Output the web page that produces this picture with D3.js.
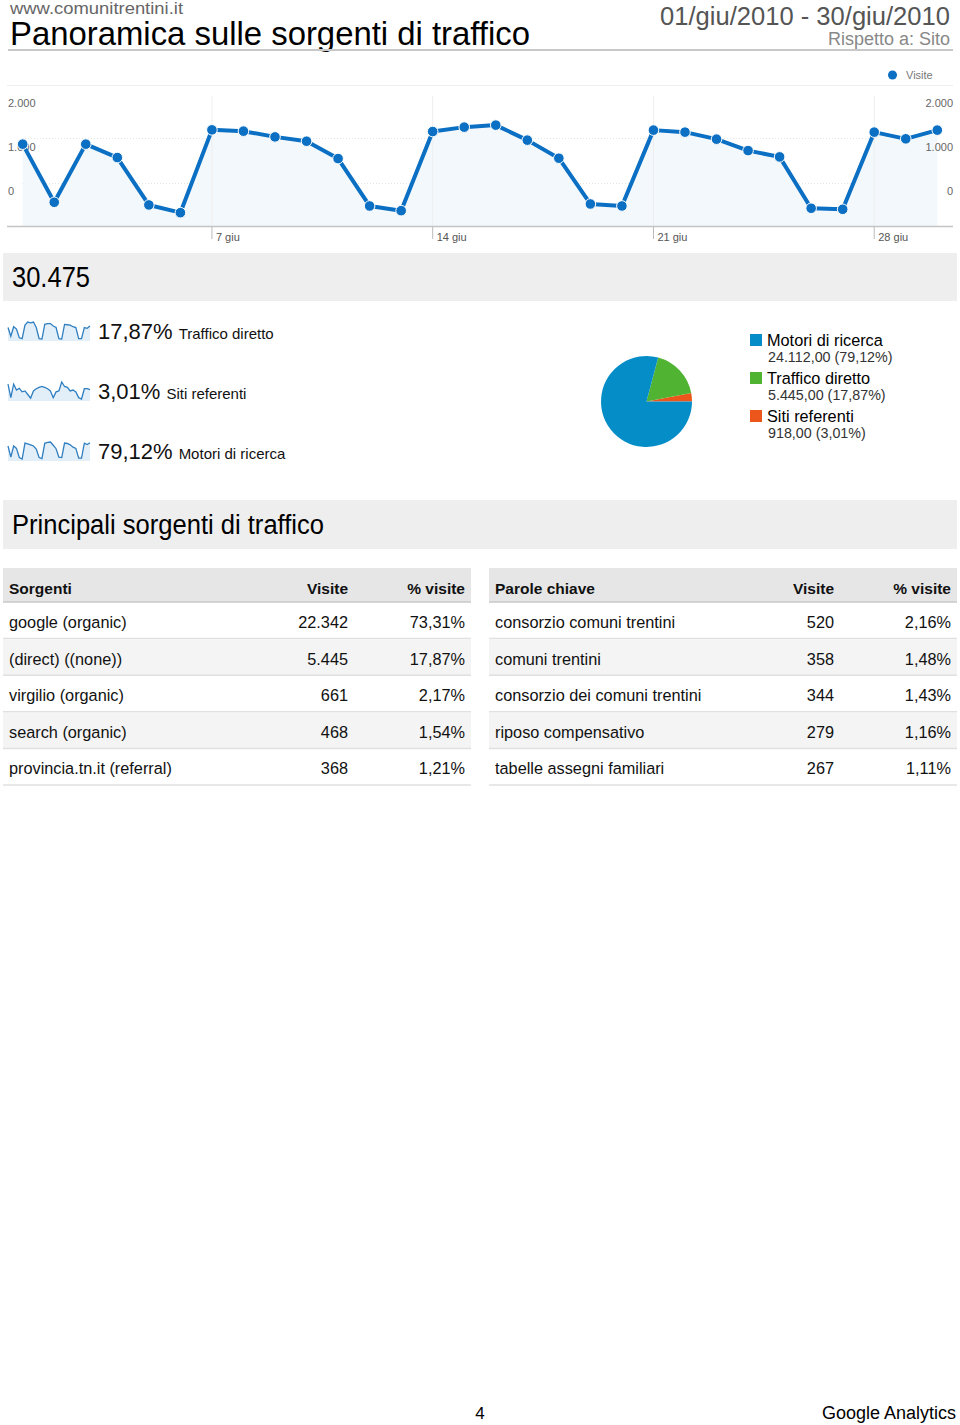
<!DOCTYPE html>
<html><head><meta charset="utf-8">
<script src="https://cdn.jsdelivr.net/npm/d3@7"></script>
<style>
html,body{margin:0;padding:0;background:#fff;}
svg{display:block;font-family:"Liberation Sans",Arial,Helvetica,sans-serif;}
</style></head>
<body>
<svg id="c" width="960" height="1425"></svg>
<script>
// ---------- DATA ----------
const siteName = "www.comunitrentini.it";
const reportTitle = "Panoramica sulle sorgenti di traffico";
const dateRange = "01/giu/2010 - 30/giu/2010";
const compareText = "Rispetto a: Sito";

const days = d3.range(1, 31);
const visits = [1259, 365, 1259, 1053, 324, 205, 1479, 1459, 1371, 1305, 1037, 308, 236, 1453, 1521,
                1552, 1321, 1043, 339, 308, 1475, 1444, 1336, 1160, 1063, 273, 257, 1444, 1341, 1475];
const xTickDays = [7, 14, 21, 28];
const xTickLabels = ["7 giu", "14 giu", "21 giu", "28 giu"];
const yTickLabels = ["2.000", "1.000", "0"];
const seriesName = "Visite";

const totalVisits = "30.475";

const sparkNames = ["Traffico diretto", "Siti referenti", "Motori di ricerca"];
const sparkPercents = ["17,87%", "3,01%", "79,12%"];
const sparkDirect = [200, 90, 210, 180, 70, 60, 230, 270, 260, 270, 200, 60, 55, 240, 250,
                     250, 220, 200, 60, 55, 240, 235, 230, 210, 200, 60, 60, 200, 190, 220];
const sparkReferral = [45, 15, 45, 32, 36, 28, 30, 22, 14, 30, 35, 38, 40, 38, 35,
                       30, 15, 28, 30, 50, 40, 38, 30, 32, 28, 15, 12, 35, 35, 33];
const sparkSearch = [1000, 250, 1000, 840, 230, 130, 1200, 1150, 1080, 1000, 800, 230, 160, 1180, 1250,
                     1270, 1050, 820, 250, 230, 1200, 1170, 1080, 920, 840, 190, 190, 1190, 1100, 1220];

const pieNames = ["Motori di ricerca", "Traffico diretto", "Siti referenti"];
const pieValues = [24112, 5445, 918];
const pieLabels = ["24.112,00 (79,12%)", "5.445,00 (17,87%)", "918,00 (3,01%)"];
const pieColors = ["#058dc7", "#50b432", "#ed561b"];

const sectionTitle = "Principali sorgenti di traffico";

const sourceHeaders = ["Sorgenti", "Visite", "% visite"];
const sourceNames = ["google (organic)", "(direct) ((none))", "virgilio (organic)", "search (organic)", "provincia.tn.it (referral)"];
const sourceVisits = ["22.342", "5.445", "661", "468", "368"];
const sourcePct = ["73,31%", "17,87%", "2,17%", "1,54%", "1,21%"];

const kwHeaders = ["Parole chiave", "Visite", "% visite"];
const kwNames = ["consorzio comuni trentini", "comuni trentini", "consorzio dei comuni trentini", "riposo compensativo", "tabelle assegni familiari"];
const kwVisits = ["520", "358", "344", "279", "267"];
const kwPct = ["2,16%", "1,48%", "1,43%", "1,16%", "1,11%"];

const pageNumber = "4";
const footerText = "Google Analytics";

// ---------- DRAW ----------
const svg = d3.select("#c");

// Header
svg.append("text").attr("x", 10).attr("y", 14).attr("font-size", 17).attr("fill", "#666").attr("textLength", 173).attr("lengthAdjust", "spacingAndGlyphs").text(siteName);
svg.append("text").attr("x", 10).attr("y", 45).attr("font-size", 33).attr("fill", "#000").attr("textLength", 520).attr("lengthAdjust", "spacingAndGlyphs").text(reportTitle);
svg.append("text").attr("x", 660).attr("y", 25).attr("font-size", 26).attr("fill", "#555").attr("textLength", 290).attr("lengthAdjust", "spacingAndGlyphs").text(dateRange);
svg.append("text").attr("x", 950).attr("y", 45).attr("font-size", 18).attr("fill", "#888").attr("text-anchor", "end").text(compareText);
svg.append("line").attr("x1", 8).attr("x2", 953).attr("y1", 50).attr("y2", 50).attr("stroke", "#c8c8c8").attr("stroke-width", 2);

// Line chart
const lineColor = "#0b6fc3";
const x = d3.scaleLinear().domain([1, 30]).range([22.7, 937.3]);
const y = d3.scaleLinear().domain([0, 2000]).range([226, 96]);
const yLab = d3.scalePoint().domain(yTickLabels).range([103, 191]);

// legend
svg.append("circle").attr("cx", 892.5).attr("cy", 75).attr("r", 4.5).attr("fill", lineColor);
svg.append("text").attr("x", 906).attr("y", 79).attr("font-size", 11).attr("fill", "#777").text(seriesName);

svg.append("line").attr("x1", 7).attr("x2", 953).attr("y1", 85.5).attr("y2", 85.5).attr("stroke", "#eee");

// dotted grid
[138.5, 183.5].forEach(gy => {
  svg.append("line").attr("x1", 22).attr("x2", 937).attr("y1", gy).attr("y2", gy)
    .attr("stroke", "#e4e4e4").attr("stroke-dasharray", "1,2");
});

// area
const area = d3.area().x((d, i) => x(days[i])).y0(y(0)).y1(d => y(d));
svg.append("path").datum(visits).attr("d", area).attr("fill", "#f2f8fc");

// vertical gridlines at ticks
xTickDays.forEach((d, i) => {
  svg.append("line").attr("x1", x(d)).attr("x2", x(d)).attr("y1", y(2000)).attr("y2", y(0)).attr("stroke", "#eeeeee");
  svg.append("line").attr("x1", x(d)).attr("x2", x(d)).attr("y1", y(0)).attr("y2", y(0) + 13).attr("stroke", "#bbb");
  svg.append("text").attr("x", x(d) + 4).attr("y", 241).attr("font-size", 11).attr("fill", "#555").text(xTickLabels[i]);
});

// y labels
yTickLabels.forEach(l => {
  svg.append("text").attr("x", 8).attr("y", yLab(l) + 4).attr("font-size", 11).attr("fill", "#666").text(l);
  svg.append("text").attr("x", 953).attr("y", yLab(l) + 4).attr("font-size", 11).attr("fill", "#666").attr("text-anchor", "end").text(l);
});

// axis
svg.append("line").attr("x1", 7).attr("x2", 953).attr("y1", 226.5).attr("y2", 226.5).attr("stroke", "#c4c4c4").attr("stroke-width", 1.5);

// line + points
const line = d3.line().x((d, i) => x(days[i])).y(d => y(d));
svg.append("path").datum(visits).attr("d", line).attr("fill", "none").attr("stroke", lineColor).attr("stroke-width", 4).attr("stroke-linejoin", "round");
svg.selectAll("circle.pt").data(visits).join("circle").attr("class", "pt")
  .attr("cx", (d, i) => x(days[i])).attr("cy", d => y(d)).attr("r", 5.3)
  .attr("fill", lineColor).attr("stroke", "#fff").attr("stroke-width", 1);

// Total box
svg.append("rect").attr("x", 3).attr("y", 253).attr("width", 954).attr("height", 48).attr("fill", "#eeeeee");
svg.append("text").attr("x", 12).attr("y", 287).attr("font-size", 29).attr("fill", "#000").attr("textLength", 78).attr("lengthAdjust", "spacingAndGlyphs").text(totalVisits);

// Sparklines
const sparkData = [sparkDirect, sparkReferral, sparkSearch];
const sparkTops = [321, 381, 441];
const sx = d3.scaleLinear().domain([1, 30]).range([8, 90]);
sparkData.forEach((arr, k) => {
  const top = sparkTops[k];
  const sy = d3.scaleLinear().domain([d3.min(arr), d3.max(arr)]).range([top + 18, top + 1]);
  const g = svg.append("g");
  g.append("path").datum(arr).attr("d", d3.area().x((d, i) => sx(days[i])).y0(top + 20).y1(d => sy(d))).attr("fill", "#e2eef8");
  g.append("path").datum(arr).attr("d", d3.line().x((d, i) => sx(days[i])).y(d => sy(d))).attr("fill", "none").attr("stroke", "#2f7fc1").attr("stroke-width", 1.3);
  const pt = svg.append("text").attr("x", 98).attr("y", top + 18).attr("font-size", 22).attr("fill", "#111").text(sparkPercents[k]);
  const w = pt.node().getComputedTextLength();
  svg.append("text").attr("x", 98 + w + 6).attr("y", top + 18).attr("font-size", 15).attr("fill", "#111").text(sparkNames[k]);
});

// Pie
const pieOrder = [2, 1, 0];
const pie = d3.pie().sort(null).value(i => pieValues[i]).startAngle(Math.PI / 2).endAngle(Math.PI / 2 - 2 * Math.PI);
const arc = d3.arc().innerRadius(0).outerRadius(45.5);
svg.append("g").attr("transform", "translate(646.5,401.5)")
  .selectAll("path").data(pie(pieOrder)).join("path")
  .attr("d", arc).attr("fill", d => pieColors[d.data]);

// Pie legend
const legTops = [334, 372, 410];
pieNames.forEach((n, i) => {
  svg.append("rect").attr("x", 750).attr("y", legTops[i]).attr("width", 12).attr("height", 12).attr("fill", pieColors[i]);
  svg.append("text").attr("x", 767).attr("y", legTops[i] + 12).attr("font-size", 16.3).attr("fill", "#000").text(n);
  svg.append("text").attr("x", 768).attr("y", legTops[i] + 28).attr("font-size", 14.3).attr("fill", "#333").text(pieLabels[i]);
});

// Section header
svg.append("rect").attr("x", 3).attr("y", 500).attr("width", 954).attr("height", 49).attr("fill", "#eeeeee");
svg.append("text").attr("x", 12).attr("y", 534).attr("font-size", 27).attr("fill", "#000").attr("textLength", 312).attr("lengthAdjust", "spacingAndGlyphs").text(sectionTitle);

// Tables
function drawTable(x0, x1, colVisR, colPctR, headers, names, vis, pct) {
  const g = svg.append("g");
  const rowY = d3.scaleBand().domain(d3.range(names.length)).range([602, 785]);
  g.append("rect").attr("x", x0).attr("y", 568).attr("width", x1 - x0).attr("height", 34).attr("fill", "#e6e6e6");
  g.append("line").attr("x1", x0).attr("x2", x1).attr("y1", 602).attr("y2", 602).attr("stroke", "#c8c8c8").attr("stroke-width", 1.5);
  g.append("text").attr("x", x0 + 6).attr("y", 594).attr("font-size", 15.5).attr("font-weight", "bold").attr("fill", "#111").text(headers[0]);
  g.append("text").attr("x", colVisR).attr("y", 594).attr("font-size", 15.5).attr("font-weight", "bold").attr("fill", "#111").attr("text-anchor", "end").text(headers[1]);
  g.append("text").attr("x", colPctR).attr("y", 594).attr("font-size", 15.5).attr("font-weight", "bold").attr("fill", "#111").attr("text-anchor", "end").text(headers[2]);
  names.forEach((n, i) => {
    const top = rowY(i), h = rowY.bandwidth();
    if (i % 2 === 1) g.append("rect").attr("x", x0).attr("y", top + 1).attr("width", x1 - x0).attr("height", h - 1).attr("fill", "#f4f4f4");
    g.append("line").attr("x1", x0).attr("x2", x1).attr("y1", top + h).attr("y2", top + h).attr("stroke", "#e0e0e0").attr("stroke-width", 1.5);
    g.append("text").attr("x", x0 + 6).attr("y", top + 26).attr("font-size", 16.3).attr("fill", "#111").text(n);
    g.append("text").attr("x", colVisR).attr("y", top + 26).attr("font-size", 16.3).attr("fill", "#111").attr("text-anchor", "end").text(vis[i]);
    g.append("text").attr("x", colPctR).attr("y", top + 26).attr("font-size", 16.3).attr("fill", "#111").attr("text-anchor", "end").text(pct[i]);
  });
}
drawTable(3, 471, 348, 465, sourceHeaders, sourceNames, sourceVisits, sourcePct);
drawTable(489, 957, 834, 951, kwHeaders, kwNames, kwVisits, kwPct);

// Footer
svg.append("text").attr("x", 480).attr("y", 1419).attr("font-size", 17).attr("fill", "#000").attr("text-anchor", "middle").text(pageNumber);
svg.append("text").attr("x", 956).attr("y", 1419).attr("font-size", 18).attr("fill", "#000").attr("text-anchor", "end").text(footerText);
</script>
</body></html>
